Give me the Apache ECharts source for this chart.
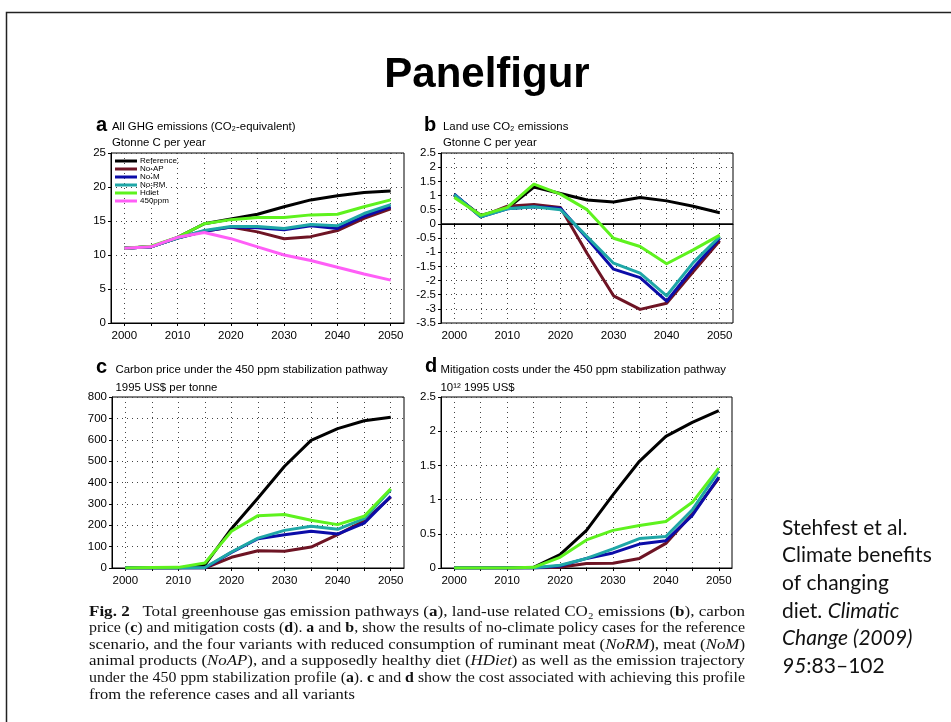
<!DOCTYPE html>
<html><head><meta charset="utf-8">
<script src="https://cdn.jsdelivr.net/npm/echarts@6/dist/echarts.min.js"></script>
<style>html,body{margin:0;padding:0;background:#fff}#c{width:951px;height:722px}</style>
</head><body><div id="c"></div>
<script>
// ---------- data ----------
const years = ['2000','2005','2010','2015','2020','2025','2030','2035','2040','2045','2050'];
const seriesNames = ['Reference.', 'No-AP', 'No-M', 'No-RM', 'Hdiet', '450ppm'];

// a  All GHG emissions (Gtonne C per year)
const ghgReference = [11.0, 11.2, 12.6, 14.6, 15.3, 16.0, 17.1, 18.1, 18.7, 19.2, 19.4];
const ghgNoAP      = [11.0, 11.2, 12.5, 13.5, 14.1, 13.4, 12.4, 12.7, 13.6, 15.4, 16.8];
const ghgNoM       = [11.0, 11.2, 12.5, 13.5, 14.1, 14.0, 13.7, 14.3, 13.9, 15.7, 17.1];
const ghgNoRM      = [11.0, 11.2, 12.5, 13.6, 14.2, 14.2, 13.9, 14.5, 14.3, 16.1, 17.4];
const ghgHdiet     = [11.0, 11.3, 12.6, 14.6, 15.2, 15.5, 15.5, 15.9, 16.0, 17.1, 18.1];
const ghg450ppm    = [11.0, 11.2, 12.6, 13.3, 12.4, 11.2, 10.0, 9.2, 8.2, 7.2, 6.3];

// b  Land use CO2 emissions (Gtonne C per year)
const luReference = [1.00, 0.30, 0.55, 1.30, 1.07, 0.84, 0.77, 0.93, 0.81, 0.62, 0.39];
const luNoAP      = [1.03, 0.25, 0.62, 0.68, 0.58, -1.04, -2.54, -3.02, -2.80, -1.69, -0.60];
const luNoM       = [1.05, 0.25, 0.53, 0.60, 0.55, -0.51, -1.60, -1.90, -2.73, -1.57, -0.51];
const luNoRM      = [1.03, 0.25, 0.53, 0.60, 0.50, -0.45, -1.39, -1.74, -2.54, -1.37, -0.45];
const luHdiet     = [0.93, 0.30, 0.58, 1.40, 1.05, 0.50, -0.51, -0.80, -1.41, -0.92, -0.40];

// c  Carbon price (1995 US$ per tonne)
const cpReference = [0, 0, 0, 15, 184, 327, 476, 597, 652, 689, 705];
const cpNoAP      = [0, 0, 0, 0, 50, 81, 78, 98, 156, 221, 331];
const cpNoM       = [0, 0, 0, 0, 73, 137, 156, 172, 159, 210, 335];
const cpNoRM      = [0, 0, 0, 2, 75, 140, 176, 195, 181, 231, 366];
const cpHdiet     = [0, 2, 3, 23, 172, 245, 250, 223, 203, 242, 371];

// d  Mitigation costs (10^12 1995 US$)
const mcReference = [0, 0, 0, 0.01, 0.195, 0.55, 1.07, 1.56, 1.925, 2.13, 2.30];
const mcNoAP      = [0, 0, 0, 0, 0.01, 0.065, 0.07, 0.14, 0.36, 0.79, 1.31];
const mcNoM       = [0, 0, 0, 0, 0.03, 0.14, 0.22, 0.35, 0.40, 0.77, 1.33];
const mcNoRM      = [0, 0, 0, 0.005, 0.04, 0.14, 0.28, 0.43, 0.46, 0.85, 1.42];
const mcHdiet     = [0, 0, 0, 0.01, 0.156, 0.41, 0.55, 0.62, 0.68, 0.96, 1.46];

// y-axis scales per panel [min, max, interval]
const yScaleA = [0, 25, 5];
const yScaleB = [-3.5, 2.5, 0.5];
const yScaleC = [0, 800, 100];
const yScaleD = [0, 2.5, 0.5];

// ---------- style ----------
const colors = ['#000000', '#6e1424', '#0c0ca8', '#1fa7a7', '#5ef21e', '#ff5ef7'];
const sans = '"Liberation Sans", Arial, Helvetica, sans-serif';
const serif = '"Liberation Serif", "Times New Roman", serif';
const grids = [
  {left: 111, top: 153, width: 293, height: 170},
  {left: 441, top: 153, width: 292, height: 170},
  {left: 112, top: 397, width: 292, height: 171},
  {left: 441, top: 397, width: 291, height: 171}
];
const panels = [
  {scale: yScaleA, data: [ghgReference, ghgNoAP, ghgNoM, ghgNoRM, ghgHdiet, ghg450ppm]},
  {scale: yScaleB, data: [luReference, luNoAP, luNoM, luNoRM, luHdiet]},
  {scale: yScaleC, data: [cpReference, cpNoAP, cpNoM, cpNoRM, cpHdiet]},
  {scale: yScaleD, data: [mcReference, mcNoAP, mcNoM, mcNoRM, mcHdiet]}
];

const dotted = {color: '#444', width: 1, type: [1, 4]};
const xAxes = [], yAxes = [], series = [];
panels.forEach((p, i) => {
  xAxes.push({
    type: 'category', gridIndex: i, data: years, boundaryGap: true,
    axisLine: {lineStyle: {color: '#000', width: 1}},
    axisTick: {show: true, interval: 0, alignWithLabel: true, length: 3, lineStyle: {color: '#000'}},
    axisLabel: {interval: 1, color: '#000', fontFamily: sans, fontSize: 11.5, margin: 7},
    splitLine: {show: true, interval: 0, alignWithLabel: true, lineStyle: dotted}
  });
  yAxes.push({
    type: 'value', gridIndex: i, min: p.scale[0], max: p.scale[1], interval: p.scale[2],
    axisLine: {show: true, lineStyle: {color: '#000', width: 1}},
    axisTick: {show: true, length: 3, lineStyle: {color: '#000'}},
    axisLabel: {color: '#000', fontFamily: sans, fontSize: 11.5, margin: 5},
    splitLine: {show: true, lineStyle: dotted}
  });
  p.data.forEach((vals, k) => {
    const s = {
      type: 'line', name: seriesNames[k], xAxisIndex: i, yAxisIndex: i, data: vals,
      showSymbol: false, symbol: 'none', silent: true, animation: false,
      lineStyle: {width: 3, color: colors[k], join: 'round'},
      itemStyle: {color: colors[k]}, z: 3 + k
    };
    if (i === 1 && k === 0) {
      s.markLine = {
        silent: true, symbol: 'none', animation: false, label: {show: false},
        lineStyle: {color: '#000', width: 1.5, type: 'solid'},
        data: [{yAxis: 0}]
      };
    }
    series.push(s);
  });
});

// ---------- texts ----------
function t(x, y, text, font, extra) {
  return Object.assign({type: 'text', x: x, y: y, silent: true,
    style: {text: text, font: font, fill: '#000', verticalAlign: 'middle'}}, extra || {});
}
const titleFont = '11.4px ' + sans;
const letterFont = 'bold 20px ' + sans;

const graphics = [
  {type: 'polyline', silent: true, shape: {points: [[6.5, 722], [6.5, 12.5], [951, 12.5]]},
   style: {stroke: '#222', lineWidth: 1.5, fill: null}},
  t(487, 75, 'Panelfigur', 'bold 42px ' + sans, {style: {text: 'Panelfigur', font: 'bold 42px ' + sans, fill: '#000', align: 'center', verticalAlign: 'middle'}}),
  t(96, 125, 'a', letterFont), t(112, 127, 'All GHG emissions (CO₂-equivalent)', titleFont), t(112, 142.5, 'Gtonne C per year', titleFont),
  t(424, 125, 'b', letterFont), t(443, 127, 'Land use CO₂ emissions', titleFont), t(443, 142.5, 'Gtonne C per year', titleFont),
  t(96, 367, 'c', letterFont), t(115.5, 369.5, 'Carbon price under the 450 ppm stabilization pathway', titleFont), t(115.5, 388, '1995 US$ per tonne', titleFont),
  t(425, 366, 'd', letterFont), t(440.5, 370, 'Mitigation costs under the 450 ppm stabilization pathway', titleFont), t(440.5, 388, '10¹² 1995 US$', titleFont)
];

// caption (justified by stretching each line to the column width)
const capSize = 14;
const capFonts = {
  n: capSize + 'px ' + serif,
  b: 'bold ' + capSize + 'px ' + serif,
  i: 'italic ' + capSize + 'px ' + serif
};
const captionLines = [
  [['b', 'Fig. 2'], ['n', '   Total greenhouse gas emission pathways ('], ['b', 'a'], ['n', '), land-use related CO₂ emissions ('], ['b', 'b'], ['n', '), carbon']],
  [['n', 'price ('], ['b', 'c'], ['n', ') and mitigation costs ('], ['b', 'd'], ['n', '). '], ['b', 'a'], ['n', ' and '], ['b', 'b'], ['n', ', show the results of no-climate policy cases for the reference']],
  [['n', 'scenario, and the four variants with reduced consumption of ruminant meat ('], ['i', 'NoRM'], ['n', '), meat ('], ['i', 'NoM'], ['n', ')']],
  [['n', 'animal products ('], ['i', 'NoAP'], ['n', '), and a supposedly healthy diet ('], ['i', 'HDiet'], ['n', ') as well as the emission trajectory']],
  [['n', 'under the 450 ppm stabilization profile ('], ['b', 'a'], ['n', '). '], ['b', 'c'], ['n', ' and '], ['b', 'd'], ['n', ' show the cost associated with achieving this profile']],
  [['n', 'from the reference cases and all variants']]
];
const capX = 89, capRight = 745, capTop = 612, capStep = 16.6;
const mctx = document.createElement('canvas').getContext('2d');
function lineWidth(segs) {
  let w = 0;
  segs.forEach(s => { mctx.font = capFonts[s[0]]; w += mctx.measureText(s[1]).width; });
  return w;
}
const capRich = {
  n: {font: capFonts.n, fill: '#111'},
  b: {font: capFonts.b, fill: '#111'},
  i: {font: capFonts.i, fill: '#111'}
};
let scales = [];
captionLines.forEach((segs, li) => {
  const w = lineWidth(segs);
  let sc = (capRight - capX) / w;
  if (li === captionLines.length - 1) {
    sc = scales.reduce((a, b) => a + b, 0) / scales.length;
  } else {
    scales.push(sc);
  }
  const txt = segs.map(s => '{' + s[0] + '|' + s[1] + '}').join('');
  graphics.push({
    type: 'text', silent: true, x: capX, y: capTop + li * capStep, scaleX: sc,
    style: {text: txt, rich: capRich, verticalAlign: 'middle', font: capFonts.n}
  });
});

// citation at the right
const citeFont = '21px Lato, "Open Sans", sans-serif';
const citeFontI = 'italic 21px Lato, "Open Sans", sans-serif';
graphics.push({
  type: 'text', silent: true, x: 782, y: 514,
  style: {
    text: '{n|Stehfest et al.}\n{n|Climate benefits}\n{n|of changing}\n{n|diet. }{i|Climatic}\n{i|Change (2009)}\n{i|95}{n|:83–102}',
    rich: {
      n: {font: citeFont, fill: '#111', lineHeight: 27.7},
      i: {font: citeFontI, fill: '#111', lineHeight: 27.7}
    },
    verticalAlign: 'top'
  }
});

const chart = echarts.init(document.getElementById('c'), null, {renderer: 'canvas'});
chart.setOption({
  backgroundColor: '#fff',
  animation: false,
  grid: grids.map(g => Object.assign({show: true, borderColor: '#000', borderWidth: 1, backgroundColor: 'transparent'}, g)),
  xAxis: xAxes,
  yAxis: yAxes,
  legend: {
    data: seriesNames, left: 115, top: 157, orient: 'vertical', padding: 0,
    itemWidth: 22, itemHeight: 3, itemGap: 0, icon: 'rect', selectedMode: false,
    textStyle: {fontFamily: sans, fontSize: 8, color: '#000', lineHeight: 7.3, padding: [0, 0, 0, -2]}
  },
  series: series,
  graphic: graphics
});
</script></body></html>
